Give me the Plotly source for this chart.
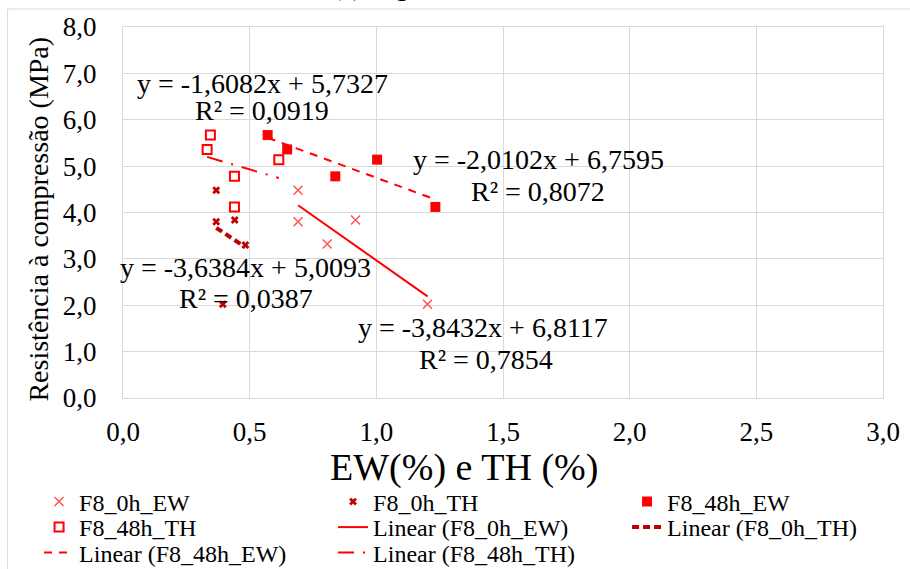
import plotly.graph_objects as go

# ---------------- data ----------------
x_0h_ew = [0.691, 0.691, 0.806, 0.918, 1.202]
y_0h_ew = [4.48, 3.80, 3.32, 3.84, 2.02]

x_0h_th = [0.368, 0.368, 0.483, 0.441, 0.394]
y_0h_th = [4.48, 3.80, 3.30, 3.84, 2.02]

x_48h_ew = [0.571, 0.648, 1.003, 0.838, 1.233]
y_48h_ew = [5.67, 5.36, 5.14, 4.78, 4.12]

x_48h_th = [0.345, 0.332, 0.615, 0.440, 0.440]
y_48h_th = [5.67, 5.36, 5.14, 4.78, 4.12]

# trendline coefficients
slope_0h_ew, icpt_0h_ew = -3.8432, 6.8117
slope_0h_th, icpt_0h_th = -3.6384, 5.0093
slope_48h_ew, icpt_48h_ew = -2.0102, 6.7595
slope_48h_th, icpt_48h_th = -1.6082, 5.7327

eq_0h_ew = ["y = -3,8432x + 6,8117", "R² = 0,7854"]
eq_0h_th = ["y = -3,6384x + 5,0093", "R² = 0,0387"]
eq_48h_ew = ["y = -2,0102x + 6,7595", "R² = 0,8072"]
eq_48h_th = ["y = -1,6082x + 5,7327", "R² = 0,0919"]

x_tickvals = [0, 0.5, 1.0, 1.5, 2.0, 2.5, 3.0]
x_ticktext = ["0,0", "0,5", "1,0", "1,5", "2,0", "2,5", "3,0"]
y_tickvals = [0, 1, 2, 3, 4, 5, 6, 7, 8]
y_ticktext = ["0,0", "1,0", "2,0", "3,0", "4,0", "5,0", "6,0", "7,0", "8,0"]

FONT = "Liberation Serif"
RED = "#FF0000"
LIGHTRED = "#FF5050"
DARKRED = "#C00000"


def trend(xs, m, b):
    x0, x1 = min(xs), max(xs)
    return [x0, x1], [m * x0 + b, m * x1 + b]


fig = go.Figure()

fig.add_trace(go.Scatter(x=x_0h_ew, y=y_0h_ew, mode="markers", name="F8_0h_EW",
                         marker=dict(symbol="x-thin", size=9, line=dict(color=LIGHTRED, width=1.4)),
                         legend="legend"))
fig.add_trace(go.Scatter(x=x_0h_th, y=y_0h_th, mode="markers", name="F8_0h_TH",
                         marker=dict(symbol="x", size=7, color=DARKRED),
                         legend="legend"))
fig.add_trace(go.Scatter(x=x_48h_ew, y=y_48h_ew, mode="markers", name="F8_48h_EW",
                         marker=dict(symbol="square", size=10, color=RED),
                         legend="legend"))
fig.add_trace(go.Scatter(x=x_48h_th, y=y_48h_th, mode="markers", name="F8_48h_TH",
                         marker=dict(symbol="square", size=9, color="white",
                                     line=dict(color=RED, width=2)),
                         legend="legend2"))

tx, ty = trend(x_0h_ew, slope_0h_ew, icpt_0h_ew)
fig.add_trace(go.Scatter(x=tx, y=ty, mode="lines", name="Linear (F8_0h_EW)",
                         line=dict(color=RED, width=2), legend="legend2"))
tx, ty = trend(x_0h_th, slope_0h_th, icpt_0h_th)
fig.add_trace(go.Scatter(x=tx, y=ty, mode="lines", name="Linear (F8_0h_TH)",
                         line=dict(color=DARKRED, width=4, dash="7px,4px"), legend="legend2"))
tx, ty = trend(x_48h_ew, slope_48h_ew, icpt_48h_ew)
fig.add_trace(go.Scatter(x=tx, y=ty, mode="lines", name="Linear (F8_48h_EW)",
                         line=dict(color=RED, width=2, dash="8px,7px"), legend="legend3"))
tx, ty = trend(x_48h_th, slope_48h_th, icpt_48h_th)
fig.add_trace(go.Scatter(x=tx, y=ty, mode="lines", name="Linear (F8_48h_TH)",
                         line=dict(color=RED, width=2, dash="16px,9px,2px,9px"), legend="legend3"))

# equation labels (position = styling)
ann_font = dict(family=FONT, size=28, color="black")
labels = [
    (eq_48h_th[0], 0.552, 6.79), (eq_48h_th[1], 0.550, 6.21),
    (eq_48h_ew[0], 1.639, 5.15), (eq_48h_ew[1], 1.639, 4.46),
    (eq_0h_th[0], 0.485, 2.82), (eq_0h_th[1], 0.487, 2.155),
    (eq_0h_ew[0], 1.422, 1.51), (eq_0h_ew[1], 1.434, 0.82),
]
annotations = [dict(text=t, x=x, y=y, xref="x", yref="y", showarrow=False,
                    xanchor="center", yanchor="middle", font=ann_font)
               for t, x, y in labels]

W, H = 910, 569
L, R, T, B = 122.5, 27, 27, 171
pw, ph = W - L - R, H - T - B


def px(x):
    return (x - L) / pw


def py(y):
    return (H - B - y) / ph


annotations += [
    dict(text="EW(%) e TH (%)", x=px(464), y=py(467), xref="paper", yref="paper",
         showarrow=False, xanchor="center", yanchor="middle",
         font=dict(family=FONT, size=38, color="black")),
    dict(text="Resistência à compressão (MPa)", x=px(38), y=py(219), xref="paper", yref="paper",
         showarrow=False, xanchor="center", yanchor="middle", textangle=-90,
         font=dict(family=FONT, size=28, color="black")),
    dict(text="(a) Argamassas PR e P4", x=px(461), y=py(9), xref="paper", yref="paper",
         showarrow=False, xanchor="center", yanchor="bottom", yshift=6,
         font=dict(family=FONT, size=27, color="black")),
]

legend_common = dict(orientation="h", xref="paper", yref="paper",
                     xanchor="left", yanchor="middle", x=px(38.5),
                     font=dict(family=FONT, size=24, color="black"),
                     entrywidth=249, entrywidthmode="pixels",
                     bgcolor="rgba(0,0,0,0)", borderwidth=0, itemwidth=30,
                     traceorder="normal")

fig.update_layout(
    width=W, height=H,
    margin=dict(l=L, r=R, t=T, b=B, pad=0, autoexpand=False),
    paper_bgcolor="white", plot_bgcolor="white",
    showlegend=True,
    legend=dict(legend_common, y=py(502)),
    legend2=dict(legend_common, y=py(527.5)),
    legend3=dict(legend_common, y=py(553)),
    xaxis=dict(range=[0, 3], tickvals=x_tickvals, ticktext=x_ticktext,
               showgrid=True, gridcolor="#D9D9D9", gridwidth=1,
               showline=True, linecolor="#D9D9D9", mirror=True, zeroline=False,
               ticks="", ticklabelstandoff=10,
               tickfont=dict(family=FONT, size=27, color="black")),
    yaxis=dict(range=[0, 8], tickvals=y_tickvals, ticktext=y_ticktext,
               showgrid=True, gridcolor="#D9D9D9", gridwidth=1,
               showline=True, linecolor="#D9D9D9", mirror=True, zeroline=False,
               ticks="", ticklabelstandoff=20,
               tickfont=dict(family=FONT, size=27, color="black")),
    annotations=annotations,
    shapes=[dict(type="rect", xref="paper", yref="paper",
                 x0=px(7), y0=py(9), x1=px(960), y1=py(640),
                 line=dict(color="#D9D9D9", width=1), fillcolor="rgba(0,0,0,0)",
                 layer="below")],
)

fig.write_html("out.html")
